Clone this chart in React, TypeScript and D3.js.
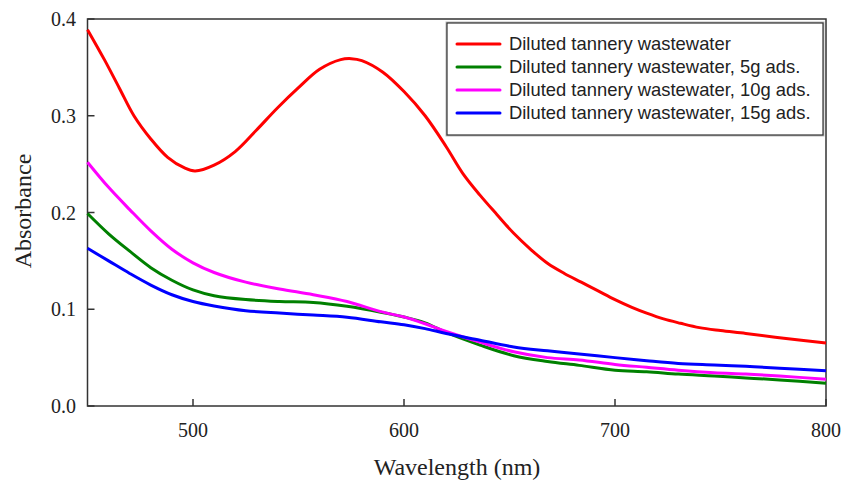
import React from "react";
import * as d3 from "d3";

const seriesNames = [
  "Diluted tannery wastewater",
  "Diluted tannery wastewater, 5g ads.",
  "Diluted tannery wastewater, 10g ads.",
  "Diluted tannery wastewater, 15g ads.",
];
const seriesColors = ["#ff0000", "#008000", "#ff00ff", "#0000ff"];

const redW = [450, 458, 465, 472, 480, 488, 496, 501, 510, 520, 530, 540, 550, 560, 570, 575, 580, 590, 600, 610, 620, 628, 636, 644, 652, 660, 668, 676, 684, 692, 700, 708, 715, 723, 731, 740, 750, 762, 780, 800];
const redA = [0.389, 0.358, 0.329, 0.300, 0.276, 0.257, 0.246, 0.243, 0.249, 0.263, 0.285, 0.308, 0.329, 0.348, 0.358, 0.359, 0.357, 0.345, 0.325, 0.300, 0.268, 0.240, 0.218, 0.198, 0.1785, 0.162, 0.1475, 0.137, 0.128, 0.119, 0.110, 0.102, 0.096, 0.090, 0.0855, 0.081, 0.078, 0.075, 0.070, 0.065];

const lowW = [450, 460, 470, 480, 490, 500, 510, 525, 541, 557, 573, 589, 600, 610, 620, 636, 652, 668, 683, 700, 715, 730, 747, 762, 778, 800];
const greenA = [0.199, 0.178, 0.160, 0.143, 0.130, 0.120, 0.114, 0.110, 0.108, 0.107, 0.103, 0.097, 0.092, 0.086, 0.076, 0.063, 0.052, 0.046, 0.042, 0.037, 0.0355, 0.033, 0.031, 0.029, 0.027, 0.0235];
const magentaA = [0.252, 0.226, 0.203, 0.181, 0.162, 0.148, 0.138, 0.128, 0.121, 0.115, 0.108, 0.0975, 0.092, 0.085, 0.077, 0.066, 0.056, 0.050, 0.0475, 0.043, 0.040, 0.037, 0.0344, 0.033, 0.031, 0.0276];
const blueA = [0.163, 0.150, 0.137, 0.125, 0.115, 0.108, 0.1034, 0.0985, 0.096, 0.094, 0.0917, 0.087, 0.084, 0.080, 0.075, 0.068, 0.061, 0.057, 0.0537, 0.050, 0.0468, 0.044, 0.0424, 0.041, 0.039, 0.0365];

const xTicks = [500, 600, 700, 800];
const yTicks = [0.0, 0.1, 0.2, 0.3, 0.4];

export default function App() {
  const x = d3.scaleLinear().domain([450, 800]).range([87.5, 826]);
  const y = d3.scaleLinear().domain([0, 0.4]).range([406, 19]);

  const series = [
    redW.map((w, i) => [w, redA[i]]),
    lowW.map((w, i) => [w, greenA[i]]),
    lowW.map((w, i) => [w, magentaA[i]]),
    lowW.map((w, i) => [w, blueA[i]]),
  ];
  const line = d3
    .line<number[]>()
    .x((d) => x(d[0]))
    .y((d) => y(d[1]))
    .curve(d3.curveCatmullRom.alpha(0.5));

  const serif = "'Liberation Serif', 'Times New Roman', serif";
  const sans = "'Liberation Sans', Arial, sans-serif";
  const axisColor = "#333";

  const lx = 447, ly = 23, lw = 376, lh = 112;

  return (
    <svg
      width={856}
      height={480}
      style={{ position: "fixed", left: 0, top: 0, background: "#fff" }}
    >
      <rect x={0} y={0} width={856} height={480} fill="#fff" />
      <rect
        x={x(450)}
        y={y(0.4)}
        width={x(800) - x(450)}
        height={y(0) - y(0.4)}
        fill="none"
        stroke={axisColor}
        strokeWidth={1.5}
      />
      {xTicks.map((t) => (
        <g key={"xt" + t}>
          <line x1={x(t)} x2={x(t)} y1={y(0)} y2={y(0) - 7} stroke={axisColor} strokeWidth={1.5} />
          <text x={x(t)} y={437} textAnchor="middle" fontFamily={serif} fontSize={20} fill="#222">
            {t}
          </text>
        </g>
      ))}
      {yTicks.map((t) => (
        <g key={"yt" + t}>
          <line x1={x(450)} x2={x(450) + 7} y1={y(t)} y2={y(t)} stroke={axisColor} strokeWidth={1.5} />
          <text
            x={76}
            y={y(t)}
            dy="0.35em"
            textAnchor="end"
            fontFamily={serif}
            fontSize={20}
            fill="#222"
          >
            {t.toFixed(1)}
          </text>
        </g>
      ))}
      <text
        x={457}
        y={475}
        textAnchor="middle"
        fontFamily={serif}
        fontSize={24}
        fill="#222"
      >
        Wavelength (nm)
      </text>
      <text
        transform="translate(31,211) rotate(-90)"
        textAnchor="middle"
        fontFamily={serif}
        fontSize={24}
        fill="#222"
      >
        Absorbance
      </text>
      {series.map((s, i) => (
        <path
          key={"s" + i}
          d={line(s) || ""}
          fill="none"
          stroke={seriesColors[i]}
          strokeWidth={3}
          strokeLinejoin="round"
        />
      ))}
      <rect x={lx} y={ly} width={lw} height={lh} fill="#fff" stroke="#bbb" strokeWidth={3} />
      <rect x={lx} y={ly} width={lw} height={lh} fill="#fff" stroke="#333" strokeWidth={1.2} />
      {seriesNames.map((n, i) => {
        const cy = 44 + i * 23;
        return (
          <g key={"lg" + i}>
            <line x1={457} x2={500} y1={cy} y2={cy} stroke={seriesColors[i]} strokeWidth={3} strokeLinecap="round" />
            <text x={509} y={cy} dy="0.35em" fontFamily={sans} fontSize={18.4} fill="#222">
              {n}
            </text>
          </g>
        );
      })}
    </svg>
  );
}
